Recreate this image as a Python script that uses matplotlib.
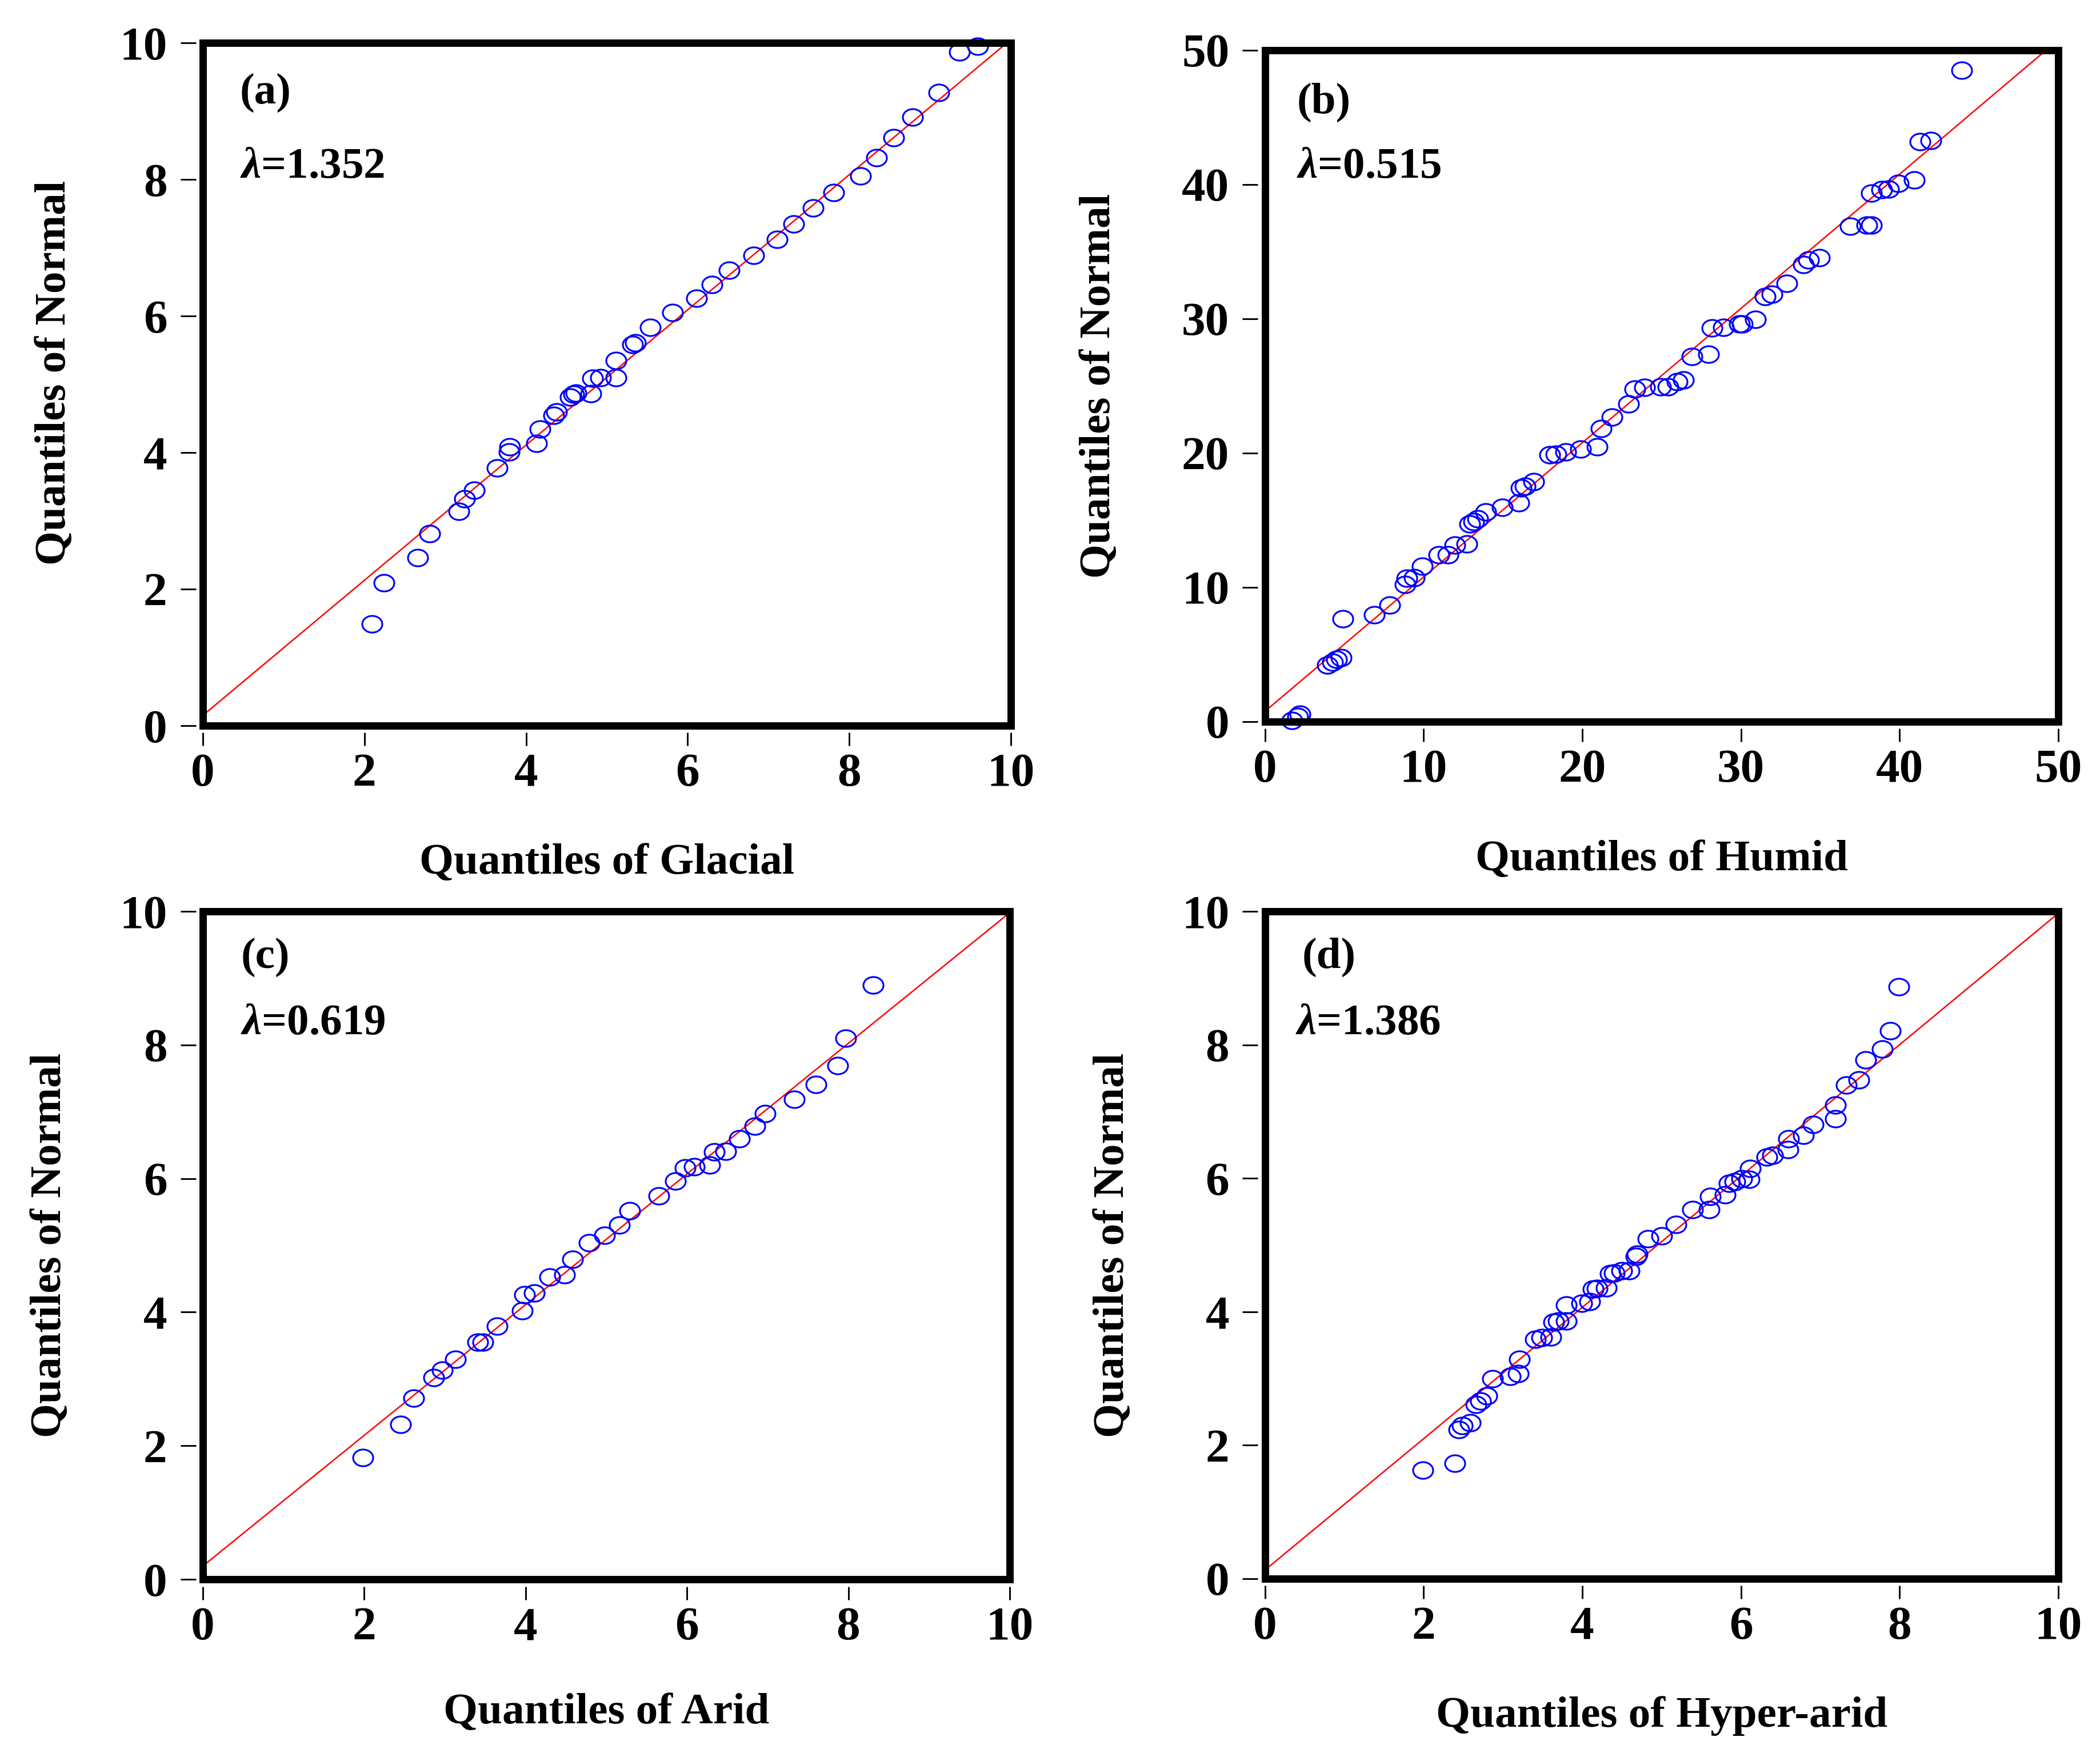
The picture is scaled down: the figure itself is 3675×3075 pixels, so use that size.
import numpy as np
import matplotlib
matplotlib.use("Agg")
import matplotlib.pyplot as plt
from matplotlib.path import Path
from matplotlib.patches import Rectangle

plt.rcParams['font.family'] = 'Liberation Serif'
plt.rcParams['font.weight'] = 'bold'
plt.rcParams['mathtext.fontset'] = 'custom'
plt.rcParams['mathtext.it'] = 'Liberation Serif:italic:bold'
plt.rcParams['mathtext.rm'] = 'Liberation Serif:bold'

# (a) Glacial
glacial_x = [2.09, 2.24, 2.66, 2.81, 3.17, 3.24, 3.36, 3.64, 3.79, 3.80, 4.13, 4.17,
             4.34, 4.38, 4.55, 4.59, 4.62, 4.80, 4.82, 4.92, 5.11, 5.11, 5.32, 5.35,
             5.54, 5.81, 6.11, 6.30, 6.51, 6.82, 7.11, 7.31, 7.55, 7.81, 8.14, 8.34,
             8.55, 8.78, 9.11, 9.36, 9.59]
glacial_y = [1.49, 2.09, 2.46, 2.81, 3.14, 3.32, 3.45, 3.77, 4.01, 4.08, 4.13, 4.34,
             4.54, 4.59, 4.81, 4.85, 4.87, 4.86, 5.09, 5.10, 5.10, 5.35, 5.58, 5.61,
             5.83, 6.05, 6.26, 6.46, 6.67, 6.89, 7.12, 7.35, 7.58, 7.81, 8.05, 8.32,
             8.61, 8.91, 9.27, 9.87, 9.95]

# (b) Humid
humid_x = [1.7, 2.05, 2.2, 3.93, 4.27, 4.51, 4.78, 4.89, 6.90, 7.86, 8.82, 8.95,
           9.40, 9.91, 10.94, 11.55, 11.96, 12.71, 12.92, 13.16, 13.40, 13.91, 14.97,
           15.99, 16.13, 16.40, 16.92, 17.94, 18.35, 18.97, 19.89, 20.92, 21.19, 21.87,
           22.90, 23.31, 23.92, 24.95, 25.39, 25.97, 26.38, 26.93, 27.96, 28.19, 28.88,
           29.90, 30.08, 30.93, 31.51, 31.96, 32.91, 33.94, 34.28, 34.96, 36.91, 37.94,
           38.21, 38.21, 38.89, 39.30, 39.92, 40.94, 41.29, 41.97, 43.92]
humid_y = [0.1, 0.4, 0.55, 4.19, 4.43, 4.63, 4.77, 7.65, 7.95, 8.66, 10.23, 10.67,
           10.74, 11.58, 12.42, 12.42, 13.15, 13.22, 14.70, 14.90, 15.10, 15.60, 15.94,
           16.28, 17.38, 17.52, 17.85, 19.87, 19.93, 20.07, 20.30, 20.47, 21.81, 22.68,
           23.66, 24.77, 24.90, 24.93, 24.93, 25.33, 25.44, 27.18, 27.35, 29.30, 29.36,
           29.63, 29.63, 29.97, 31.64, 31.81, 32.62, 34.06, 34.40, 34.56, 36.91, 36.98,
           36.98, 39.36, 39.60, 39.66, 40.10, 40.33, 43.19, 43.29, 48.49]

# (c) Arid
arid_x = [1.98, 2.45, 2.61, 2.86, 2.97, 3.13, 3.41, 3.47, 3.65, 3.96, 3.99, 4.11,
          4.30, 4.48, 4.58, 4.79, 4.98, 5.16, 5.29, 5.65, 5.86, 5.98, 6.09, 6.28,
          6.34, 6.48, 6.65, 6.84, 6.97, 7.33, 7.60, 7.87, 7.97, 8.31]
arid_y = [1.82, 2.32, 2.71, 3.02, 3.13, 3.29, 3.55, 3.55, 3.79, 4.02, 4.26, 4.29,
          4.53, 4.56, 4.79, 5.04, 5.15, 5.30, 5.52, 5.74, 5.96, 6.16, 6.18, 6.20,
          6.40, 6.41, 6.60, 6.78, 6.97, 7.19, 7.41, 7.69, 8.10, 8.90]

# (d) Hyper-arid
hyper_x = [1.99, 2.39, 2.44, 2.49, 2.59, 2.66, 2.72, 2.80, 2.87, 3.09, 3.19, 3.21,
           3.41, 3.49, 3.60, 3.64, 3.70, 3.80, 3.80, 3.99, 4.09, 4.14, 4.19, 4.30,
           4.35, 4.40, 4.50, 4.59, 4.68, 4.69, 4.83, 5.00, 5.18, 5.39, 5.60, 5.61,
           5.80, 5.85, 5.92, 6.01, 6.10, 6.12, 6.33, 6.40, 6.59, 6.60, 6.79, 6.91,
           7.19, 7.19, 7.33, 7.49, 7.57, 7.78, 7.88, 7.99]
hyper_y = [1.63, 1.73, 2.23, 2.29, 2.34, 2.61, 2.66, 2.74, 3.00, 3.03, 3.07, 3.29,
           3.59, 3.61, 3.62, 3.84, 3.86, 3.86, 4.10, 4.13, 4.15, 4.34, 4.35, 4.36,
           4.57, 4.58, 4.61, 4.61, 4.83, 4.86, 5.09, 5.14, 5.31, 5.53, 5.53, 5.73,
           5.75, 5.92, 5.95, 5.99, 5.98, 6.15, 6.32, 6.34, 6.43, 6.59, 6.64, 6.81,
           6.89, 7.10, 7.40, 7.47, 7.77, 7.94, 8.21, 8.87]

# reference lines (intercept, slope)
lines = [(0.15, 0.99), (0.77, 1.0), (0.20, 0.978), (0.13, 0.984)]
lambdas = ["1.352", "0.515", "0.619", "1.386"]
tags = ["(a)", "(b)", "(c)", "(d)"]
names = ["Glacial", "Humid", "Arid", "Hyper-arid"]
limits = [10, 50, 10, 10]
steps = [2, 10, 2, 2]

xs = [glacial_x, humid_x, arid_x, hyper_x]
ys = [glacial_y, humid_y, arid_y, hyper_y]

# layout
rects = [[0.0966, 0.5870, 0.3848, 0.3886],
         [0.6024, 0.5893, 0.3777, 0.3821],
         [0.0966, 0.1011, 0.3842, 0.3802],
         [0.6024, 0.1015, 0.3777, 0.3798]]
xlab_y = [-0.172, -0.176, -0.170, -0.176]
ylab_x = [-0.159, -0.184, -0.165, -0.167]
ylab_y = [0.517, 0.5, 0.5, 0.5]
tag_pos = [(0.046, 0.927), (0.040, 0.922), (0.047, 0.931), (0.047, 0.931)]
lam_pos = [(0.046, 0.818), (0.040, 0.826), (0.047, 0.832), (0.038, 0.832)]

# slightly wide ellipse marker, like the original
t = np.linspace(0, 2 * np.pi, 73)
ellipse = Path(np.column_stack([1.2 * np.cos(t), np.sin(t)]), closed=True)

fig = plt.figure(figsize=(12.25, 10.25), dpi=300)

for i in range(4):
    ax = fig.add_axes(rects[i])
    b, m = lines[i]
    ax.axline((0, b), slope=m, color="#ff0000", lw=0.6, zorder=2)
    ax.plot(xs[i], ys[i], linestyle="none", marker=ellipse, ms=8.4,
            mfc="none", mec="#0000ff", mew=0.75, clip_on=False, zorder=3)

    lim = limits[i]
    ax.set_xlim(0, lim)
    ax.set_ylim(0, lim)
    ticks = np.arange(0, lim + 1, steps[i])
    ax.set_xticks(ticks)
    ax.set_yticks(ticks)

    for s in ax.spines.values():
        s.set_visible(False)
    ax.spines["bottom"].set_position(("outward", 3))
    ax.spines["left"].set_position(("outward", 3))
    ax.add_patch(Rectangle((0, 0), 1, 1, transform=ax.transAxes, fill=False,
                           lw=3.1, ec="black", clip_on=False, zorder=5))

    ax.tick_params(axis="x", direction="out", length=5.5, width=0.7, pad=3, labelsize=20)
    ax.tick_params(axis="y", direction="out", length=6.5, width=0.7, pad=5.5, labelsize=20)

    ax.set_xlabel("Quantiles of " + names[i], fontsize=18.5, fontweight="bold")
    ax.xaxis.set_label_coords(0.5, xlab_y[i])
    ax.set_ylabel("Quantiles of Normal", fontsize=18.5, fontweight="bold")
    ax.yaxis.set_label_coords(ylab_x[i], ylab_y[i])

    ax.text(tag_pos[i][0], tag_pos[i][1], tags[i], transform=ax.transAxes,
            fontsize=18.5, va="center", ha="left")
    ax.text(lam_pos[i][0], lam_pos[i][1], r"$\lambda$=" + lambdas[i],
            transform=ax.transAxes, fontsize=18.5, va="center", ha="left")

plt.savefig("out.png", dpi=300)
